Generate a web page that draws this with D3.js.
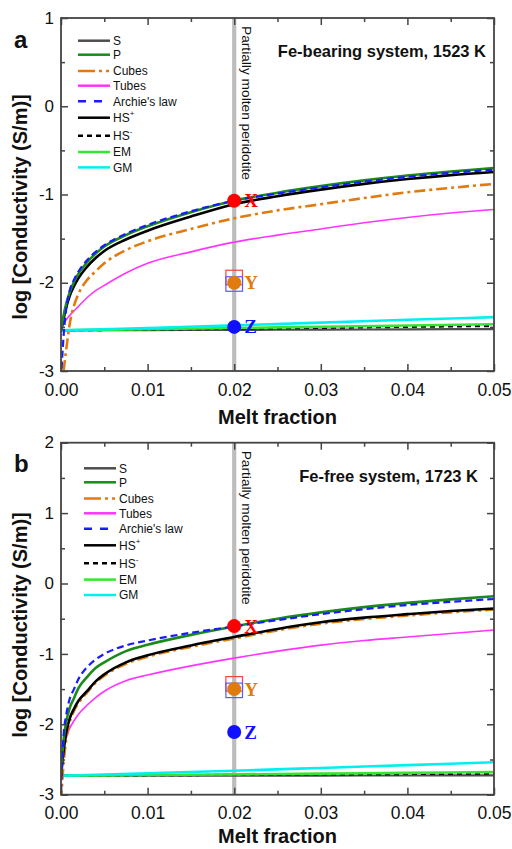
<!DOCTYPE html>
<html>
<head>
<meta charset="utf-8">
<script src="https://cdn.jsdelivr.net/npm/d3@7"></script>
<style>
body { margin: 0; background: #fff; }
svg { display: block; }
text { font-family: Arial, "Liberation Sans", sans-serif; }
</style>
</head>
<body>
<script>
// melt fraction grid used for the rising curves
var melt = [0, 0.0003, 0.0006, 0.001, 0.0015, 0.002, 0.003, 0.004, 0.005, 0.0075, 0.01, 0.015, 0.02, 0.025, 0.03, 0.035, 0.04, 0.045, 0.05];
// coarser grid for the nearly flat lower-bound curves
var meltLow = [0, 0.01, 0.02, 0.03, 0.04, 0.05];

// (a) Fe-bearing system, 1523 K  -- log10 conductivity
var aP      = [-2.54, -2.37, -2.24, -2.11, -1.99, -1.90, -1.77, -1.67, -1.59, -1.46, -1.36, -1.20, -1.07, -0.98, -0.905, -0.84, -0.785, -0.74, -0.70];
var aArchie = [-3.10, -2.60, -2.30, -2.09, -1.965, -1.875, -1.745, -1.65, -1.575, -1.445, -1.345, -1.19, -1.07, -0.99, -0.92, -0.855, -0.80, -0.755, -0.72];
var aHSp    = [-2.54, -2.41, -2.28, -2.15, -2.04, -1.95, -1.82, -1.72, -1.64, -1.51, -1.41, -1.25, -1.11, -1.02, -0.945, -0.88, -0.825, -0.78, -0.745];
var aCubes  = [-3.25, -3.00, -2.76, -2.47, -2.26, -2.13, -1.97, -1.87, -1.78, -1.63, -1.53, -1.39, -1.27, -1.18, -1.11, -1.04, -0.975, -0.925, -0.88];
var aTubes  = [-2.54, -2.47, -2.42, -2.37, -2.32, -2.27, -2.17, -2.09, -2.03, -1.89, -1.78, -1.65, -1.54, -1.46, -1.39, -1.32, -1.26, -1.21, -1.17];
var aS   = [-2.54, -2.537, -2.534, -2.531, -2.528, -2.525];
var aHSm = [-2.54, -2.531, -2.521, -2.511, -2.50, -2.49];
var aEM  = [-2.54, -2.527, -2.513, -2.499, -2.485, -2.47];
var aGM  = [-2.54, -2.512, -2.483, -2.452, -2.42, -2.39];
var aPoints = [-1.07, -2.00, -2.50];

// (b) Fe-free system, 1723 K
var bP      = [-2.73, -2.22, -1.97, -1.77, -1.63, -1.49, -1.33, -1.20, -1.12, -0.96, -0.87, -0.73, -0.61, -0.50, -0.41, -0.335, -0.275, -0.225, -0.18];
var bArchie = [-2.95, -2.15, -1.87, -1.64, -1.50, -1.36, -1.19, -1.08, -1.00, -0.88, -0.81, -0.70, -0.61, -0.52, -0.435, -0.365, -0.305, -0.26, -0.22];
var bHSp    = [-2.73, -2.38, -2.12, -1.92, -1.78, -1.67, -1.53, -1.39, -1.29, -1.12, -1.02, -0.88, -0.76, -0.645, -0.55, -0.485, -0.435, -0.39, -0.355];
var bCubes  = [-3.10, -2.55, -2.22, -1.97, -1.81, -1.70, -1.55, -1.41, -1.31, -1.14, -1.04, -0.90, -0.78, -0.665, -0.57, -0.505, -0.455, -0.41, -0.37];
var bTubes  = [-2.73, -2.35, -2.20, -2.06, -1.95, -1.86, -1.73, -1.62, -1.53, -1.38, -1.30, -1.17, -1.06, -0.96, -0.875, -0.81, -0.76, -0.71, -0.66];
var bS   = [-2.73, -2.73, -2.729, -2.728, -2.727, -2.726];
var bHSm = [-2.73, -2.724, -2.718, -2.712, -2.706, -2.70];
var bEM  = [-2.73, -2.721, -2.711, -2.70, -2.69, -2.68];
var bGM  = [-2.73, -2.695, -2.66, -2.62, -2.58, -2.54];
var bPoints = [-0.605, -1.50, -2.11];

var seriesNames = ['S', 'P', 'Cubes', 'Tubes', "Archie's law", 'HS+', 'HS-', 'EM', 'GM'];
var pointNames = ['X', 'Y', 'Z'];
var pointMelt = 0.02;
var xTicks = [0, 0.01, 0.02, 0.03, 0.04, 0.05];
var xMinor = [0.005, 0.015, 0.025, 0.035, 0.045];

var style = {
  'S':            { color: '#4d4d4d', width: 2.2, dash: null },
  'P':            { color: '#1a8a1a', width: 2.6, dash: null },
  'Cubes':        { color: '#e07b10', width: 2.6, dash: '11,4,3,4' },
  'Tubes':        { color: '#ff33ff', width: 1.6, dash: null },
  "Archie's law": { color: '#1a1aff', width: 2.2, dash: '7,4' },
  'HS+':          { color: '#000000', width: 2.6, dash: null },
  'HS-':          { color: '#000000', width: 2.2, dash: '5,4' },
  'EM':           { color: '#33e633', width: 2.6, dash: null },
  'GM':           { color: '#00f0f0', width: 2.6, dash: null }
};
var pointColor = { 'X': '#ff0000', 'Y': '#e07b10', 'Z': '#1010ff' };

var W = 512, H = 849;
var svg = d3.select('body').append('svg').attr('width', W).attr('height', H);

var panels = [
  { top: 18, bottom: 371, yMax: 1, label: 'a', system: 'Fe-bearing system, 1523 K', sysX: 486,
    legX: 78, legY: 40.7, titleY: 207, xTitleY: 424, pts: aPoints,
    curves: { 'S': [meltLow, aS], 'HS-': [meltLow, aHSm], 'EM': [meltLow, aEM], 'GM': [meltLow, aGM],
              'Tubes': [melt, aTubes], 'Cubes': [melt, aCubes], 'HS+': [melt, aHSp], 'P': [melt, aP], "Archie's law": [melt, aArchie] } },
  { top: 442.7, bottom: 794.7, yMax: 2, label: 'b', system: 'Fe-free system, 1723 K', sysX: 478,
    legX: 84, legY: 468.3, titleY: 625, xTitleY: 843, pts: bPoints,
    curves: { 'S': [meltLow, bS], 'HS-': [meltLow, bHSm], 'EM': [meltLow, bEM], 'GM': [meltLow, bGM],
              'Tubes': [melt, bTubes], 'Cubes': [melt, bCubes], 'HS+': [melt, bHSp], 'P': [melt, bP], "Archie's law": [melt, bArchie] } }
];
var drawOrder = ['S', 'HS-', 'EM', 'GM', 'Tubes', 'Cubes', 'HS+', 'P', "Archie's law"];
var legendStep = [0, 14, 30.3, 45, 60.5, 77, 95, 111.3, 126.7];

var left = 61, right = 494;
var x = d3.scaleLinear().domain([0, 0.05]).range([left, right]);

panels.forEach(function (p, pi) {
  var y = d3.scaleLinear().domain([-3, p.yMax]).range([p.bottom, p.top]);
  var g = svg.append('g');
  var yMajor = d3.range(-3, p.yMax + 0.01, 1);
  var yMinor = d3.range(-2.5, p.yMax, 1);

  var clipId = 'clip' + pi;
  svg.append('clipPath').attr('id', clipId).append('rect')
    .attr('x', left).attr('y', p.top).attr('width', right - left).attr('height', p.bottom - p.top);

  // gray vertical line at melt fraction 0.02
  g.append('line')
    .attr('x1', x(pointMelt)).attr('x2', x(pointMelt))
    .attr('y1', p.top).attr('y2', p.bottom)
    .attr('stroke', '#bdbdbd').attr('stroke-width', 4.2);

  var line = d3.line()
    .x(function (d) { return x(d[0]); })
    .y(function (d) { return y(d[1]); })
    .curve(d3.curveMonotoneX);

  var cg = g.append('g').attr('clip-path', 'url(#' + clipId + ')');
  drawOrder.forEach(function (name) {
    var c = p.curves[name];
    var pts = c[0].map(function (m, i) { return [m, c[1][i]]; });
    var s = style[name];
    cg.append('path')
      .attr('d', line(pts))
      .attr('fill', 'none')
      .attr('stroke', s.color)
      .attr('stroke-width', s.width)
      .attr('stroke-dasharray', s.dash);
  });

  // axes with inward ticks
  function axis(gen, tx, ty, vals, size, labels) {
    var a = gen.tickValues(vals).tickSize(size).tickPadding(labels ? 7 : 0);
    if (!labels) a.tickFormat('');
    var ag = g.append('g').attr('transform', 'translate(' + tx + ',' + ty + ')').call(a);
    ag.select('.domain').remove();
    ag.selectAll('line').attr('stroke', '#444').attr('stroke-width', 1.5);
    return ag;
  }
  var yl = axis(d3.axisLeft(y), left, 0, yMajor, -7, true);
  yl.selectAll('text').attr('font-size', 17).attr('fill', '#111').attr('dy', '0.3em')
    .text(function (d) { return d3.format('d')(d).replace('−', '-'); });
  axis(d3.axisLeft(y), left, 0, yMinor, -4, false);
  axis(d3.axisRight(y), right, 0, yMajor, -7, false);
  axis(d3.axisRight(y), right, 0, yMinor, -4, false);
  var xb = axis(d3.axisBottom(x), 0, p.bottom, xTicks, -7, true);
  xb.selectAll('text').attr('font-size', 17.5).attr('fill', '#111').attr('dy', null).attr('y', 24.5)
    .text(function (d) { return d3.format('.2f')(d); });
  axis(d3.axisBottom(x), 0, p.bottom, xMinor, -4, false);
  axis(d3.axisTop(x), 0, p.top, xTicks, -7, false);
  axis(d3.axisTop(x), 0, p.top, xMinor, -4, false);

  g.append('rect')
    .attr('x', left).attr('y', p.top).attr('width', right - left).attr('height', p.bottom - p.top)
    .attr('fill', 'none').attr('stroke', '#444').attr('stroke-width', 1.8);

  // vertical annotation
  g.append('text')
    .attr('transform', 'translate(242,' + (p.top + 8) + ') rotate(90)')
    .attr('font-size', 12.5).attr('fill', '#111')
    .attr('textLength', 154).attr('lengthAdjust', 'spacingAndGlyphs')
    .text('Partially molten peridotite');

  // X, Y, Z points
  p.pts.forEach(function (v, i) {
    var name = pointNames[i];
    var cx = x(pointMelt), cy = y(v);
    if (name === 'Y') {
      g.append('rect').attr('x', cx - 8.3).attr('y', cy - 12.5).attr('width', 16.6).attr('height', 14.5)
        .attr('fill', 'none').attr('stroke', '#ff4040').attr('stroke-width', 1.2);
      g.append('rect').attr('x', cx - 8.3).attr('y', cy - 6).attr('width', 16.6).attr('height', 14.5)
        .attr('fill', 'none').attr('stroke', '#5a5aff').attr('stroke-width', 1.2);
    }
    g.append('circle').attr('cx', cx).attr('cy', cy).attr('r', 7).attr('fill', pointColor[name]);
    g.append('text')
      .attr('x', cx + 10).attr('y', cy + 6.5)
      .style('font-family', '"Liberation Serif", "Times New Roman", serif')
      .attr('font-weight', 'bold').attr('font-size', 19)
      .attr('fill', pointColor[name])
      .text(name);
  });

  // legend
  seriesNames.forEach(function (name, i) {
    var s = style[name];
    var ly = p.legY + legendStep[i];
    g.append('line')
      .attr('x1', p.legX).attr('x2', p.legX + 32).attr('y1', ly).attr('y2', ly)
      .attr('stroke', s.color).attr('stroke-width', 2.5)
      .attr('stroke-dasharray', name === 'Cubes' ? '17,4,3,4,3,4' : (name === "Archie's law" ? '8,8' : s.dash));
    var t = g.append('text').attr('x', p.legX + 35).attr('y', ly).attr('dy', '0.36em')
      .attr('font-size', 12).attr('fill', '#111');
    if (name === 'HS+' || name === 'HS-') {
      t.append('tspan').text('HS');
      t.append('tspan').attr('font-size', 8).attr('dy', '-0.7em').text(name === 'HS+' ? '+' : '-');
    } else {
      t.text(name);
    }
  });

  // labels
  g.append('text').attr('x', 14).attr('y', p.top + 29.5)
    .attr('font-size', 24).attr('font-weight', 'bold').attr('fill', '#111').text(p.label);
  g.append('text').attr('x', p.sysX).attr('y', p.top + 39.3).attr('text-anchor', 'end')
    .attr('font-size', 16.5).attr('font-weight', 'bold').attr('fill', '#111').text(p.system);
  g.append('text')
    .attr('transform', 'translate(27,' + p.titleY + ') rotate(-90)')
    .attr('text-anchor', 'middle').attr('font-size', 20).attr('font-weight', 'bold').attr('fill', '#111')
    .text('log [Conductivity (S/m)]');
  g.append('text').attr('x', (left + right) / 2).attr('y', p.xTitleY)
    .attr('text-anchor', 'middle').attr('font-size', 20).attr('font-weight', 'bold').attr('fill', '#111')
    .text('Melt fraction');
});
</script>
</body>
</html>
